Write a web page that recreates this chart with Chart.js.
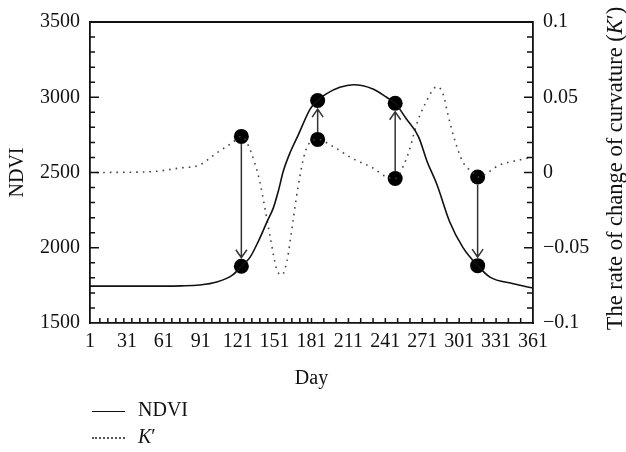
<!DOCTYPE html>
<html>
<head>
<meta charset="utf-8">
<title>NDVI and K'</title>
<script src="https://cdn.jsdelivr.net/npm/chart.js@4.4.1/dist/chart.umd.min.js"></script>
<style>
  html, body { margin: 0; padding: 0; background: #fff; }
  #wrap { position: relative; width: 626px; height: 452px; }
  #legend {
    position: absolute; left: 92px; top: 396px;
    font-family: "Liberation Serif", serif; font-size: 20px; color: #111;
  }
  #legend .row { height: 27px; line-height: 27px; white-space: nowrap; }
  #legend .sample { display: inline-block; width: 33px; margin-right: 13px; vertical-align: middle; }
  #legend .solid { border-top: 1.5px solid #111; }
  #legend .dotted { border-top: 2px dotted #555; }
</style>
</head>
<body>
<div id="wrap">
  <canvas id="chart" width="626" height="452"></canvas>
  <div id="legend">
    <div class="row"><span class="sample solid"></span>NDVI</div>
    <div class="row"><span class="sample dotted"></span><i>K</i>′</div>
  </div>
</div>
<script>
// NDVI curve
const ndviDays = [1, 40, 75, 90, 104, 117, 124, 131, 138, 145, 150, 154, 158, 164, 170, 180, 186, 193, 204, 215, 231, 242, 249, 258, 268, 275, 283, 293, 304, 316, 326, 345, 361];
const ndviValues = [1745, 1745, 1747, 1752, 1772, 1820, 1877, 1936, 2046, 2175, 2265, 2375, 2507, 2640, 2745, 2923, 2978, 3022, 3066, 3083, 3055, 3000, 2960, 2857, 2737, 2572, 2419, 2178, 2002, 1881, 1805, 1761, 1732];

// rate of change of curvature K'
const kDays = [1, 50, 74, 90, 104, 117, 124, 129, 135, 139, 143, 147, 153, 157, 161, 166, 170, 176, 186, 199, 215, 231, 242, 249, 256, 261, 266, 273, 283, 288, 292, 298, 304, 312, 316, 334, 358, 361];
const kValues = [0, 0.0005, 0.003, 0.005, 0.013, 0.020, 0.024, 0.019, 0.006, -0.006, -0.023, -0.041, -0.065, -0.068, -0.059, -0.032, -0.010, 0.014, 0.022, 0.017, 0.009, 0.003, -0.003, -0.004, 0.005, 0.016, 0.031, 0.045, 0.057, 0.052, 0.038, 0.020, 0.007, 0.000, -0.003, 0.005, 0.010, 0.011];

// key dates marked with dots and arrows
const markerDays = [124, 186, 249, 316];
const markerNdvi = [1877, 2978, 2960, 1881];
const markerK = [0.024, 0.022, -0.004, -0.003];

const dayTicks = [1, 31, 61, 91, 121, 151, 181, 211, 241, 271, 301, 331, 361];
const ndviTicks = [1500, 2000, 2500, 3000, 3500];
const kTicks = [-0.1, -0.05, 0, 0.05, 0.1];

const FONT = '"Liberation Serif", "Times New Roman", serif';
const INK = '#111';

function fmtK(v) {
    if (v === 0) return '0';
    return v < 0 ? '\u2212' + String(Math.abs(v)) : String(v);
}

// small day ticks: denser in the first half, as in the original figure
function minorDays() {
    const out = [];
    for (let k = 0; k <= 26; k++) out.push(9 + k * 6.5);
    for (let d = 181; d < 361; d += 10) out.push(d);
    return out;
}

// inward ticks, top frame line, axis titles
const frameAndTitles = {
    id: 'frameAndTitles',
    afterDraw(chart) {
        const ctx = chart.ctx;
        const a = chart.chartArea;
        const x = chart.scales.x, y = chart.scales.y, yK = chart.scales.yK;
        ctx.save();
        ctx.strokeStyle = INK;
        ctx.lineWidth = 1.5;
        ctx.beginPath();
        minorDays().forEach(d => {
            const px = x.getPixelForValue(d);
            ctx.moveTo(px, a.bottom);
            ctx.lineTo(px, a.bottom - 5);
        });
        for (let v = 1600; v < 3500; v += 100) {
            const py = y.getPixelForValue(v);
            ctx.moveTo(a.left, py);
            ctx.lineTo(a.left + (v % 500 === 0 ? 9 : 5), py);
        }
        for (let k = -9; k < 10; k++) {
            const py = yK.getPixelForValue(k / 100);
            ctx.moveTo(a.right, py);
            ctx.lineTo(a.right - (k % 5 === 0 ? 9 : 6), py);
        }
        ctx.stroke();
        ctx.lineWidth = 1.8;
        ctx.beginPath();
        ctx.moveTo(a.left, a.top);
        ctx.lineTo(a.right, a.top);
        ctx.stroke();

        ctx.fillStyle = INK;
        ctx.font = '20px ' + FONT;
        ctx.textAlign = 'center';
        ctx.textBaseline = 'middle';
        ctx.fillText('Day', (a.left + a.right) / 2, 379);

        const midY = (a.top + a.bottom) / 2;
        ctx.save();
        ctx.translate(18, midY);
        ctx.rotate(-Math.PI / 2);
        ctx.fillText('NDVI', 0, 0);
        ctx.restore();

        // right title with italic K
        const size = '22.5px ';
        const parts = [
            ['The rate of change of curvature (', size + FONT],
            ['K', 'italic ' + size + FONT],
            ['\u2032)', size + FONT]
        ];
        let total = 0;
        parts.forEach(p => { ctx.font = p[1]; total += ctx.measureText(p[0]).width; });
        ctx.save();
        ctx.translate(616, midY - 4);
        ctx.rotate(-Math.PI / 2);
        ctx.textAlign = 'left';
        let cx = -total / 2;
        parts.forEach(p => {
            ctx.font = p[1];
            ctx.fillText(p[0], cx, 0);
            cx += ctx.measureText(p[0]).width;
        });
        ctx.restore();
        ctx.restore();
    }
};

// arrows from K' dots to NDVI dots
const arrows = {
    id: 'arrows',
    afterDatasetsDraw(chart) {
        const ctx = chart.ctx;
        const x = chart.scales.x, y = chart.scales.y, yK = chart.scales.yK;
        const r = 7.5;
        ctx.save();
        ctx.strokeStyle = '#333';
        ctx.lineWidth = 1.5;
        markerDays.forEach((d, i) => {
            const px = x.getPixelForValue(d);
            const y1 = yK.getPixelForValue(markerK[i]);
            const y2 = y.getPixelForValue(markerNdvi[i]);
            const dir = y2 > y1 ? 1 : -1;
            const tip = y2 - dir * (r + 1);
            ctx.beginPath();
            ctx.moveTo(px, y1 + dir * r);
            ctx.lineTo(px, tip);
            ctx.moveTo(px - 5.5, tip - dir * 8);
            ctx.lineTo(px, tip);
            ctx.lineTo(px + 5.5, tip - dir * 8);
            ctx.stroke();
        });
        ctx.restore();
    }
};

const tickFont = { family: FONT, size: 20 };

new Chart(document.getElementById('chart'), {
    type: 'line',
    data: {
        datasets: [
            {
                label: 'NDVI',
                data: ndviDays.map((d, i) => ({ x: d, y: ndviValues[i] })),
                yAxisID: 'y',
                borderColor: INK,
                borderWidth: 1.6,
                pointRadius: 0,
                cubicInterpolationMode: 'monotone',
                fill: false
            },
            {
                label: "K'",
                data: kDays.map((d, i) => ({ x: d, y: kValues[i] })),
                yAxisID: 'yK',
                borderColor: '#444',
                borderWidth: 1.6,
                borderDash: [1.6, 5],
                pointRadius: 0,
                cubicInterpolationMode: 'monotone',
                fill: false
            },
            {
                label: 'NDVI points',
                data: markerDays.map((d, i) => ({ x: d, y: markerNdvi[i] })),
                yAxisID: 'y',
                showLine: false,
                pointRadius: 7.5,
                pointBackgroundColor: '#000',
                pointBorderWidth: 0
            },
            {
                label: "K' points",
                data: markerDays.map((d, i) => ({ x: d, y: markerK[i] })),
                yAxisID: 'yK',
                showLine: false,
                pointRadius: 7.5,
                pointBackgroundColor: '#000',
                pointBorderWidth: 0
            }
        ]
    },
    options: {
        responsive: false,
        animation: false,
        layout: { padding: { top: 19, left: 0, right: 0, bottom: 0 } },
        plugins: { legend: { display: false }, tooltip: { enabled: false } },
        scales: {
            x: {
                type: 'linear',
                min: 1,
                max: 361,
                afterBuildTicks: s => { s.ticks = dayTicks.map(v => ({ value: v })); },
                afterFit: s => { s.height = 129; },
                ticks: { font: tickFont, color: INK, padding: 7, maxRotation: 0, autoSkip: false, callback: v => String(v) },
                grid: { display: false, drawTicks: false },
                border: { display: true, color: INK, width: 1.8 }
            },
            y: {
                position: 'left',
                min: 1500,
                max: 3500,
                afterBuildTicks: s => { s.ticks = ndviTicks.map(v => ({ value: v })); },
                afterFit: s => { s.width = 90; },
                ticks: { font: tickFont, color: INK, padding: 10, callback: v => String(v) },
                grid: { display: false, drawTicks: false },
                border: { display: true, color: INK, width: 1.8 }
            },
            yK: {
                position: 'right',
                min: -0.1,
                max: 0.1,
                afterBuildTicks: s => { s.ticks = kTicks.map(v => ({ value: v })); },
                afterFit: s => { s.width = 93; },
                ticks: { font: tickFont, color: INK, padding: 10, callback: v => fmtK(v) },
                grid: { display: false, drawTicks: false },
                border: { display: true, color: INK, width: 1.8 }
            }
        }
    },
    plugins: [frameAndTitles, arrows]
});
</script>
</body>
</html>
